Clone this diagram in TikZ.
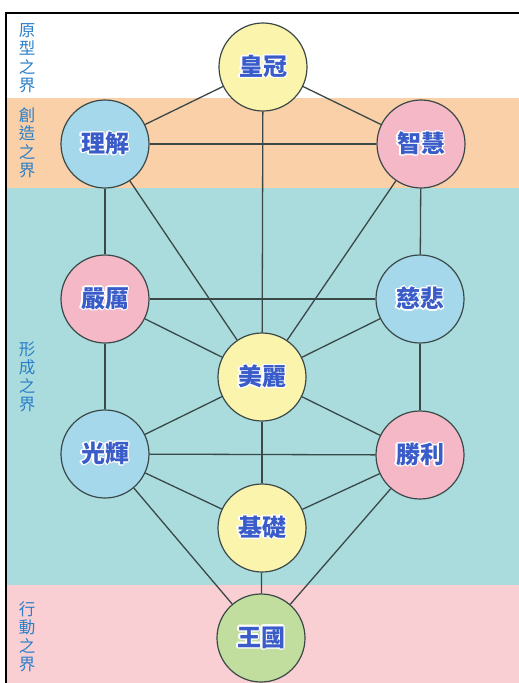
\documentclass[tikz,border=0pt]{standalone}
\usepackage{fontspec}
\usepackage{contour}
\newfontfamily\cjk{Noto Sans CJK TC}
\contourlength{1.2pt}
\definecolor{bandpeach}{HTML}{FAD0A8}
\definecolor{bandteal}{HTML}{AADCDE}
\definecolor{bandpink}{HTML}{F9CFD3}
\definecolor{sunyellow}{HTML}{FAF4AC}
\definecolor{skyblue}{HTML}{A6D8EB}
\definecolor{rosepink}{HTML}{F5B8C6}
\definecolor{leafgreen}{HTML}{C2DE9E}
\definecolor{linegray}{HTML}{3A4848}
\definecolor{nameblue}{HTML}{3A5CC8}
\definecolor{worldblue}{HTML}{2B7FC9}
\tikzset{
	sephira/.style={circle, draw=linegray, line width=1.2pt, minimum size=88pt, inner sep=0pt, text=nameblue, font=\cjk\bfseries\fontsize{24}{24}\selectfont},
	worldlabel/.style={text=worldblue, align=center, inner sep=0pt, font=\cjk\fontsize{16.5}{18.5}\selectfont},
	conn/.style={draw=linegray, line width=1.3pt}
}
\begin{document}
\begin{tikzpicture}[x=1pt,y=-1pt]
		\useasboundingbox (0,0) rectangle (519,683);
		\fill[white] (0,0) rectangle (519,683);
		\fill[bandpeach] (6,98) rectangle (519,188);
		\fill[bandteal] (6,188) rectangle (519,585);
		\fill[bandpink] (6,585) rectangle (519,683);
		\draw[line width=2pt] (6,683) -- (6,13) -- (519,13);
		\node[worldlabel] (archetype) at (27,58) {原\\型\\之\\界};
		\node[worldlabel] (creation) at (27,143) {創\\造\\之\\界};
		\node[worldlabel] (formation) at (27,377) {形\\成\\之\\界};
		\node[worldlabel] (action) at (27,637) {行\\動\\之\\界};
		\node[sephira, fill=sunyellow] (crown) at (263,67) {\contour{white}{皇冠}};
		\node[sephira, fill=skyblue] (understanding) at (105,144) {\contour{white}{理解}};
		\node[sephira, fill=rosepink] (wisdom) at (421,144) {\contour{white}{智慧}};
		\node[sephira, fill=rosepink] (severity) at (105,299) {\contour{white}{嚴厲}};
		\node[sephira, fill=skyblue] (mercy) at (420,299) {\contour{white}{慈悲}};
		\node[sephira, fill=sunyellow] (beauty) at (262,377) {\contour{white}{美麗}};
		\node[sephira, fill=skyblue] (splendour) at (105,454) {\contour{white}{光輝}};
		\node[sephira, fill=rosepink] (victory) at (420,455) {\contour{white}{勝利}};
		\node[sephira, fill=sunyellow] (foundation) at (262,528) {\contour{white}{基礎}};
		\node[sephira, fill=leafgreen] (kingdom) at (261,638) {\contour{white}{王國}};
		\draw [conn] (crown) -- (understanding);
		\draw [conn] (crown) -- (wisdom);
		\draw [conn] (crown) -- (beauty);
		\draw [conn] (understanding) -- (wisdom);
		\draw [conn] (understanding) -- (severity);
		\draw [conn] (understanding) -- (beauty);
		\draw [conn] (wisdom) -- (mercy);
		\draw [conn] (wisdom) -- (beauty);
		\draw [conn] (severity) -- (mercy);
		\draw [conn] (severity) -- (beauty);
		\draw [conn] (severity) -- (splendour);
		\draw [conn] (mercy) -- (beauty);
		\draw [conn] (mercy) -- (victory);
		\draw [conn] (beauty) -- (splendour);
		\draw [conn] (beauty) -- (victory);
		\draw [conn] (beauty) -- (foundation);
		\draw [conn] (splendour) -- (victory);
		\draw [conn] (splendour) -- (foundation);
		\draw [conn] (splendour) -- (kingdom);
		\draw [conn] (victory) -- (foundation);
		\draw [conn] (victory) -- (kingdom);
		\draw [conn] (foundation) -- (kingdom);
	\end{tikzpicture}
\end{document}
